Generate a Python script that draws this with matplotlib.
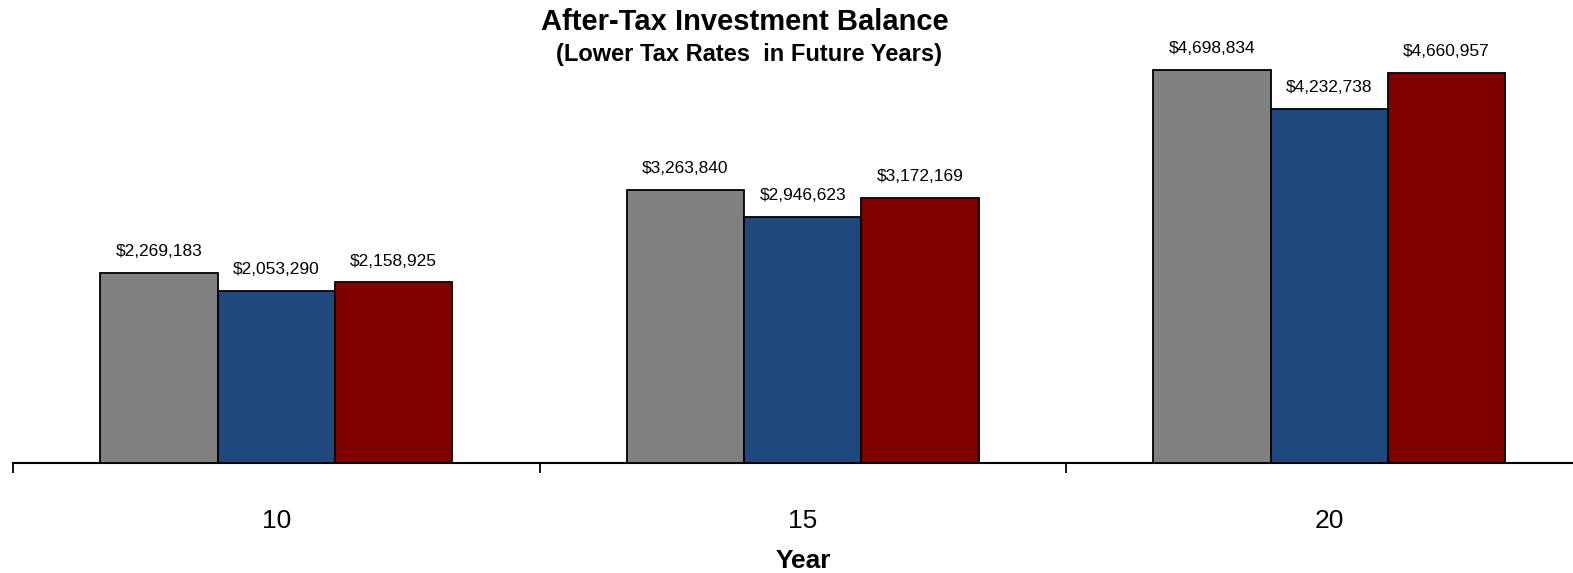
import matplotlib
matplotlib.use("Agg")
import matplotlib.pyplot as plt
import numpy as np

years = ["10", "15", "20"]
series_a = [2269183, 3263840, 4698834]
series_b = [2053290, 2946623, 4232738]
series_c = [2158925, 3172169, 4660957]
colors = ["#808080", "#1F497D", "#800000"]

plt.rcParams['font.family'] = ["Liberation Sans", "DejaVu Sans"]

W, H = 1573, 573
fig = plt.figure(figsize=(W / 100, H / 100), dpi=100)
ax = fig.add_axes([13 / W, (H - 463) / H, (W - 13) / W, 463 / H])

x = np.arange(len(years))
bw = 0.223
for i, (vals, c) in enumerate(zip([series_a, series_b, series_c], colors)):
    bars = ax.bar(x + (i - 1) * bw, vals, width=bw, color=c, edgecolor="black", linewidth=1.3, zorder=3)
    for rect, v in zip(bars, vals):
        ax.annotate(f"${v:,.0f}", (rect.get_x() + rect.get_width() / 2, rect.get_height()),
                    xytext=(0, 10), textcoords="offset points", ha="center", va="bottom",
                    fontsize=12.5)

for s in ["top", "right", "left"]:
    ax.spines[s].set_visible(False)
ax.spines["bottom"].set_linewidth(1.5)
ax.set_yticks([])
ax.set_xticks(x)
ax.set_xticklabels(years, fontsize=19)
ax.tick_params(axis="x", which="major", length=0, pad=33)
ax.set_xticks([-0.5, 0.5, 1.5, 2.5], minor=True)
ax.tick_params(axis="x", which="minor", length=7, width=1.3, direction="out")
ax.set_ylim(0, 5.536e6)
ax.set_xlim(-0.5, -0.5 + (W - 13) / 526.5)

fig.text(803 / W, 1 - 561 / H, "Year", ha="center", va="center", fontsize=19, fontweight="bold")
fig.text(745 / W, 1 - 22 / H, "After-Tax Investment Balance", ha="center", va="center",
         fontsize=21, fontweight="bold")
fig.text(749 / W, 1 - 54 / H, "(Lower Tax Rates  in Future Years)", ha="center", va="center",
         fontsize=17, fontweight="bold")

fig.savefig("out.png", dpi=100)
